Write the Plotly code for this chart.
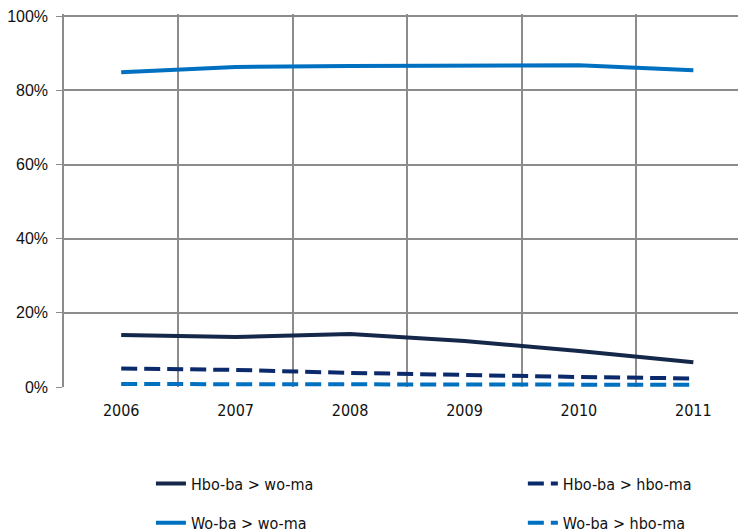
import plotly.graph_objects as go

years = ['2006', '2007', '2008', '2009', '2010', '2011']
hbo_wo = [14.0, 13.5, 14.3, 12.4, 9.7, 6.7]
hbo_hbo = [5.0, 4.6, 3.8, 3.2, 2.7, 2.3]
wo_wo = [84.9, 86.3, 86.6, 86.8, 86.8, 85.4]
wo_hbo = [0.8, 0.8, 0.8, 0.7, 0.7, 0.6]

y_ticks = [0, 20, 40, 60, 80, 100]
y_labels = [f'{v}%' for v in y_ticks]

navy = '#15284a'
navy2 = '#0b2a6b'
blue = '#0070c0'
dash = '16px,7px'
label_font = 'DejaVu Sans Condensed'

fig = go.Figure()
fig.add_trace(go.Scatter(x=years, y=hbo_wo, name='Hbo-ba > wo-ma', mode='lines',
                         line=dict(color=navy, width=4), legend='legend'))
fig.add_trace(go.Scatter(x=years, y=hbo_hbo, name='Hbo-ba > hbo-ma', mode='lines',
                         line=dict(color=navy2, width=4, dash=dash), legend='legend2'))
fig.add_trace(go.Scatter(x=years, y=wo_wo, name='Wo-ba > wo-ma', mode='lines',
                         line=dict(color=blue, width=4), legend='legend3'))
fig.add_trace(go.Scatter(x=years, y=wo_hbo, name='Wo-ba > hbo-ma', mode='lines',
                         line=dict(color=blue, width=4, dash=dash), legend='legend4'))
fig.update_traces(showlegend=True)

legend_style = dict(orientation='h', xanchor='left', yanchor='middle',
                    font=dict(family=label_font, size=16, color='#111'),
                    bgcolor='rgba(0,0,0,0)')
col1, col2 = 0.126, 0.665
row1, row2 = -0.259, -0.364

# page body adds an 8px offset, so margins are shifted by that
fig.update_layout(
    width=746, height=532,
    margin=dict(l=56, r=0, t=6, b=153),
    plot_bgcolor='white', paper_bgcolor='white',
    showlegend=True,
    legend=dict(x=col1, y=row1, **legend_style),
    legend2=dict(x=col2, y=row1, **legend_style),
    legend3=dict(x=col1, y=row2, **legend_style),
    legend4=dict(x=col2, y=row2, **legend_style),
)
fig.update_xaxes(type='category', range=[-0.5, 5.53], tickson='boundaries',
                 showgrid=True, gridcolor='#8c8c8c', gridwidth=1.5,
                 ticks='', showline=False, ticklabelstandoff=12,
                 tickfont=dict(family=label_font, size=16, color='#111'))
# range a touch above 100 so the top gridline is kept
fig.update_yaxes(range=[0, 100.6], tickvals=y_ticks, ticktext=y_labels,
                 showgrid=True, gridcolor='#8c8c8c', gridwidth=1.5,
                 showline=True, linecolor='#8c8c8c', linewidth=1.5,
                 zeroline=False, ticks='outside', ticklen=6, tickcolor='#8c8c8c',
                 ticklabelstandoff=5, ticklabeloverflow='allow',
                 tickfont=dict(family='Liberation Sans', size=16, color='#111'))

fig.write_html("out.html")
